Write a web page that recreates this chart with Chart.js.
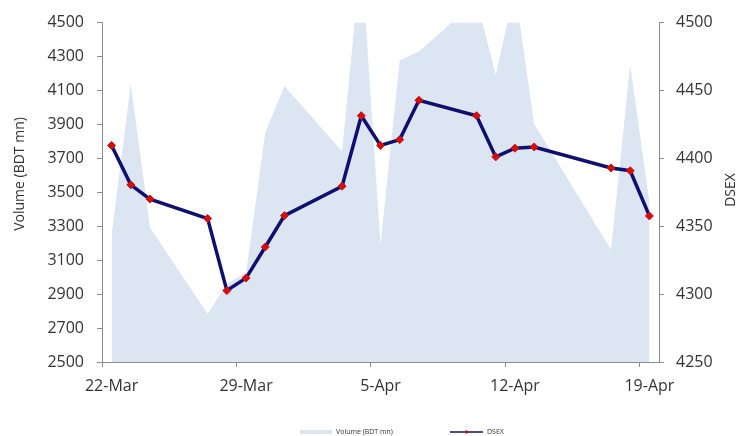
<!DOCTYPE html>
<html>
<head>
<meta charset="utf-8">
<script src="https://cdn.jsdelivr.net/npm/chart.js@4.4.0/dist/chart.umd.min.js"></script>
<style>
    html, body { margin: 0; padding: 0; background: #fff; }
    #wrap { width: 747px; height: 436px; position: relative; }
</style>
</head>
<body>
<div id="wrap"><canvas id="chart"></canvas></div>
<script>
// Trading days
const dates = ['22-Mar', '23-Mar', '24-Mar', '27-Mar', '28-Mar', '29-Mar', '30-Mar', '31-Mar',
    '3-Apr', '4-Apr', '5-Apr', '6-Apr', '7-Apr', '10-Apr', '11-Apr', '12-Apr', '13-Apr',
    '17-Apr', '18-Apr', '19-Apr'];

// Volume (BDT mn), left axis
const volume = [3250, 4140, 3293, 2783, 2960, 3026, 3853, 4126, 3742, 4900,
    3191, 4278, 4330, 4630, 4194, 4700, 3902, 3162, 4252, 3440];

// DSEX index, right axis
const dsex = [4409.5, 4380.5, 4370.0, 4355.7, 4302.6, 4311.8, 4334.7, 4357.8, 4379.5, 4431.4,
    4409.5, 4413.8, 4442.8, 4431.4, 4401.1, 4407.5, 4408.4, 4392.9, 4390.9, 4357.6];

// x axis tick labels (weekly)
const tickLabels = ['22-Mar', '29-Mar', '5-Apr', '12-Apr', '19-Apr'];

const FONT = "'Open Sans', sans-serif";
const TEXT = '#333333';
const AXIS = '#8c8c8c';

// days since 22-Mar, point sits mid-day like Excel's date axis
function dayOffset(label) {
    const [d, m] = label.split('-');
    const day = parseInt(d, 10);
    return (m === 'Mar' ? day - 22 : day + 9) + 0.5;
}

const xs = dates.map(dayOffset);
const volumePts = volume.map((v, i) => ({ x: xs[i], y: v }));
const dsexPts = dsex.map((v, i) => ({ x: xs[i], y: v }));

// Axis titles + legend drawn by hand
const extras = {
    id: 'extras',
    afterDraw(chart) {
        const ctx = chart.ctx;
        ctx.save();
        ctx.fillStyle = TEXT;
        ctx.font = `14px ${FONT}`;
        ctx.textAlign = 'center';
        ctx.textBaseline = 'middle';

        ctx.save();
        ctx.translate(20, 174);
        ctx.rotate(-Math.PI / 2);
        ctx.fillText('Volume (BDT mn)', 0, 0);
        ctx.restore();

        ctx.save();
        ctx.translate(731, 190);
        ctx.rotate(-Math.PI / 2);
        ctx.fillText('DSEX', 0, 0);
        ctx.restore();

        // legend
        ctx.fillStyle = '#dce6f2';
        ctx.fillRect(300, 430, 32, 4);
        ctx.strokeStyle = '#0f0f70';
        ctx.lineWidth = 1.5;
        ctx.beginPath();
        ctx.moveTo(450, 432);
        ctx.lineTo(483, 432);
        ctx.stroke();
        ctx.fillStyle = '#d01010';
        ctx.beginPath();
        ctx.moveTo(466.5, 430);
        ctx.lineTo(468.5, 432);
        ctx.lineTo(466.5, 434);
        ctx.lineTo(464.5, 432);
        ctx.closePath();
        ctx.fill();

        ctx.fillStyle = TEXT;
        ctx.font = `7px ${FONT}`;
        ctx.textAlign = 'left';
        ctx.fillText('Volume (BDT mn)', 336, 432);
        ctx.fillText('DSEX', 487, 432);
        ctx.restore();
    }
};

const axisGrid = {
    drawOnChartArea: false,
    drawTicks: true,
    tickLength: 5,
    color: AXIS
};

new Chart(document.getElementById('chart'), {
    type: 'line',
    data: {
        datasets: [{
            label: 'DSEX',
            data: dsexPts,
            yAxisID: 'y1',
            borderColor: '#0f0f70',
            borderWidth: 3.5,
            pointStyle: 'rectRot',
            pointRadius: 4,
            pointBackgroundColor: '#d01010',
            pointBorderColor: '#d01010',
            pointBorderWidth: 1,
            tension: 0,
            fill: false
        }, {
            label: 'Volume (BDT mn)',
            data: volumePts,
            yAxisID: 'y',
            borderWidth: 0,
            borderColor: 'rgba(0,0,0,0)',
            backgroundColor: '#dce6f2',
            pointRadius: 0,
            tension: 0,
            fill: 'start'
        }]
    },
    options: {
        responsive: true,
        maintainAspectRatio: false,
        animation: false,
        layout: { padding: { top: 17, left: 0, right: 0, bottom: 0 } },
        plugins: {
            legend: { display: false },
            tooltip: { enabled: false }
        },
        scales: {
            x: {
                type: 'linear',
                min: 0,
                max: 29,
                afterFit: (scale) => { scale.height = 74; },
                grid: axisGrid,
                border: { display: true, color: AXIS, width: 1 },
                ticks: {
                    stepSize: 7,
                    includeBounds: false,
                    autoSkip: false,
                    maxRotation: 0,
                    labelOffset: 9.6,
                    padding: 10,
                    color: TEXT,
                    font: { family: FONT, size: 16 },
                    callback: (v) => tickLabels[v / 7] || ''
                }
            },
            y: {
                position: 'left',
                min: 2500,
                max: 4500,
                afterFit: (scale) => { scale.width = 102; },
                grid: axisGrid,
                border: { display: true, color: AXIS, width: 1 },
                ticks: {
                    stepSize: 200,
                    padding: 13,
                    color: TEXT,
                    font: { family: FONT, size: 16 },
                    callback: (v) => String(v)
                }
            },
            y1: {
                position: 'right',
                min: 4250,
                max: 4500,
                afterFit: (scale) => { scale.width = 88; },
                grid: axisGrid,
                border: { display: true, color: AXIS, width: 1 },
                ticks: {
                    stepSize: 50,
                    padding: 12,
                    color: TEXT,
                    font: { family: FONT, size: 16 },
                    callback: (v) => String(v)
                }
            }
        }
    },
    plugins: [extras]
});
</script>
</body>
</html>
